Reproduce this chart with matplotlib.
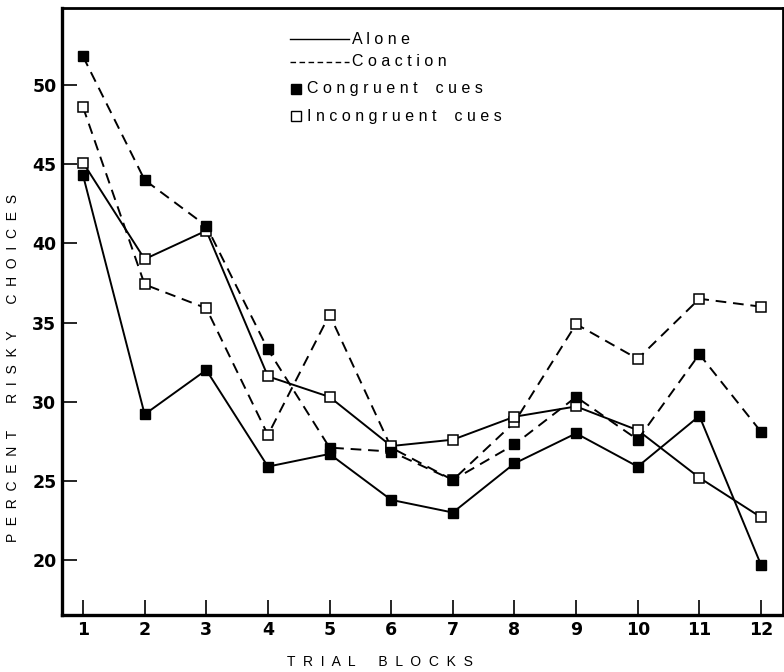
import matplotlib
matplotlib.use("Agg")
import matplotlib.pyplot as plt

blocks = list(range(1, 13))
alone_congruent = [44.3, 29.2, 32.0, 25.9, 26.7, 23.8, 23.0, 26.1, 28.0, 25.9, 29.1, 19.7]
alone_incongruent = [45.1, 39.0, 40.8, 31.6, 30.3, 27.2, 27.6, 29.05, 29.7, 28.2, 25.2, 22.7]
coaction_congruent = [51.8, 44.0, 41.1, 33.3, 27.1, 26.85, 25.05, 27.3, 30.3, 27.6, 33.0, 28.1]
coaction_incongruent = [48.6, 37.4, 35.9, 27.9, 35.5, 27.1, 25.05, 28.7, 34.9, 32.7, 36.5, 36.0]
y_ticks = [20, 25, 30, 35, 40, 45, 50]

plt.rcParams['font.family'] = ['Liberation Sans', 'DejaVu Sans']

W, H = 784, 672
fig = plt.figure(figsize=(W / 100, H / 100), dpi=100)
ax = fig.add_axes([62 / W, 1 - 615 / H, (783 - 62) / W, (615 - 8) / H])

dash = (0, (5.5, 3.5))
ms = 6.5
lw = 1.4
ax.plot(blocks, coaction_incongruent, linestyle=dash, color='black', lw=lw,
        marker='s', ms=ms, mfc='white', mec='black', mew=1.1, zorder=3)
ax.plot(blocks, alone_incongruent, linestyle='-', color='black', lw=lw,
        marker='s', ms=ms, mfc='white', mec='black', mew=1.1, zorder=3)
ax.plot(blocks, coaction_congruent, linestyle=dash, color='black', lw=lw,
        marker='s', ms=ms, mfc='black', mec='black', zorder=4)
ax.plot(blocks, alone_congruent, linestyle='-', color='black', lw=lw,
        marker='s', ms=ms, mfc='black', mec='black', zorder=4)

ax.set_xlim(0.659, 12.357)
ax.set_ylim(16.53, 54.86)
ax.set_xticks(blocks)
ax.set_yticks(y_ticks)
ax.tick_params(direction='in', length=11, width=1.2, pad=4)
for lab in ax.get_xticklabels() + ax.get_yticklabels():
    lab.set_fontweight('bold')
    lab.set_fontfamily('DejaVu Sans')
    lab.set_fontsize(12.5)
for s in ax.spines.values():
    s.set_linewidth(2.0)
ax.spines['left'].set_linewidth(2.4)
ax.spines['bottom'].set_linewidth(2.4)

# y label and x label (letter-spaced)
fig.text(13 / W, 1 - 368 / H,
         'P  E  R  C  E  N  T       R  I  S  K  Y       C  H  O  I  C  E  S',
         rotation=90, ha='center', va='center', fontsize=10)
fig.text(380 / W, 1 - 662 / H, 'T  R  I  A  L      B  L  O  C  K  S',
         ha='center', va='center', fontsize=10)

# legend (drawn in figure pixel coordinates)
def fx(px):
    return px / W

def fy(py):
    return 1 - py / H

legend_font = 11.5
fig.add_artist(plt.Line2D([fx(290), fx(349)], [fy(39), fy(39)], color='black', lw=1.0))
fig.text(fx(352), fy(39), 'A l o n e', va='center', ha='left', fontsize=legend_font)
fig.add_artist(plt.Line2D([fx(290), fx(349)], [fy(62), fy(62)], color='black', lw=1.0,
                          linestyle=(0, (4, 2.5))))
fig.text(fx(352), fy(62), 'C o a c t i o n', va='center', ha='left', fontsize=legend_font)
fig.add_artist(plt.Line2D([fx(296)], [fy(89)], marker='s', ms=6.5, mfc='black', mec='black'))
fig.text(fx(307), fy(89), 'C o n g r u e n t    c u e s', va='center', ha='left', fontsize=legend_font)
fig.add_artist(plt.Line2D([fx(296)], [fy(116)], marker='s', ms=6.5, mfc='white', mec='black', mew=1.0))
fig.text(fx(307), fy(116), 'I n c o n g r u e n t    c u e s', va='center', ha='left', fontsize=legend_font)

fig.savefig('out.png', dpi=100)
